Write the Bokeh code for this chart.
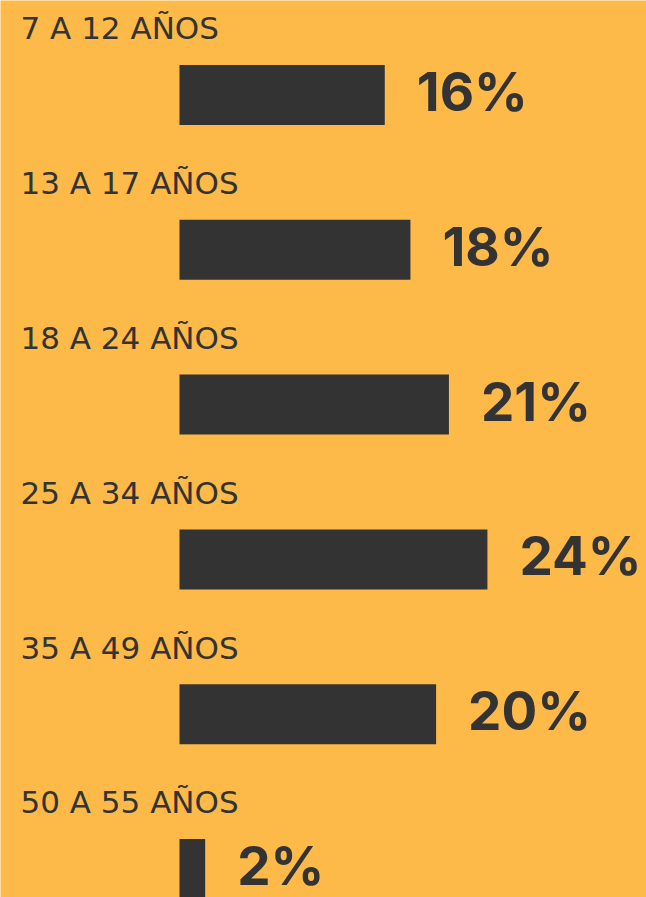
from bokeh.plotting import figure
from bokeh.models import Range1d, ColumnDataSource
from bokeh.core.properties import value
from bokeh.embed import file_html
from bokeh.resources import INLINE

categories = ["7 A 12 AÑOS", "13 A 17 AÑOS", "18 A 24 AÑOS", "25 A 34 AÑOS", "35 A 49 AÑOS", "50 A 55 AÑOS"]
values = [16, 18, 21, 24, 20, 2]
labels = ["16%", "18%", "21%", "24%", "20%", "2%"]

BG = "#FDBA48"
DARK = "#333333"

W, H = 646, 897
px_per_unit_x = 12.83
bar_left_px = 179
x0 = -bar_left_px / px_per_unit_x
x1 = (W - bar_left_px) / px_per_unit_x

row_px = 154.8
first_center_px = 94.5
y_top = -first_center_px / row_px
y_bottom = (H - first_center_px) / row_px

idx = list(range(len(categories)))
src = ColumnDataSource(dict(
    y=idx,
    v=values,
    cat=categories,
    lab=labels,
    ly=[i - 0.43 for i in idx],
))

p = figure(width=W, height=H, output_backend="svg", toolbar_location=None,
           x_range=Range1d(x0, x1), y_range=Range1d(y_bottom, y_top),
           min_border=0)
p.background_fill_color = BG
p.border_fill_color = BG
p.outline_line_color = None
p.axis.visible = False
p.grid.visible = False

p.hbar(y="y", left=0, right="v", height=60 / row_px, source=src,
       fill_color=DARK, line_color=None)

p.text(x="v", y="y", text="lab", source=src, x_offset=32, y_offset=-3,
       text_font=value("Inter"), text_font_style="bold", text_font_size="53px",
       text_color=DARK, text_baseline="middle", text_align="left")

label_x = x0 + 20 / px_per_unit_x
p.text(x=label_x, y="ly", text="cat", source=src,
       text_font=value("DejaVu Sans"), text_font_size="31px",
       text_color=DARK, text_baseline="middle", text_align="left")

open("out.html", "w").write(file_html(p, INLINE))
